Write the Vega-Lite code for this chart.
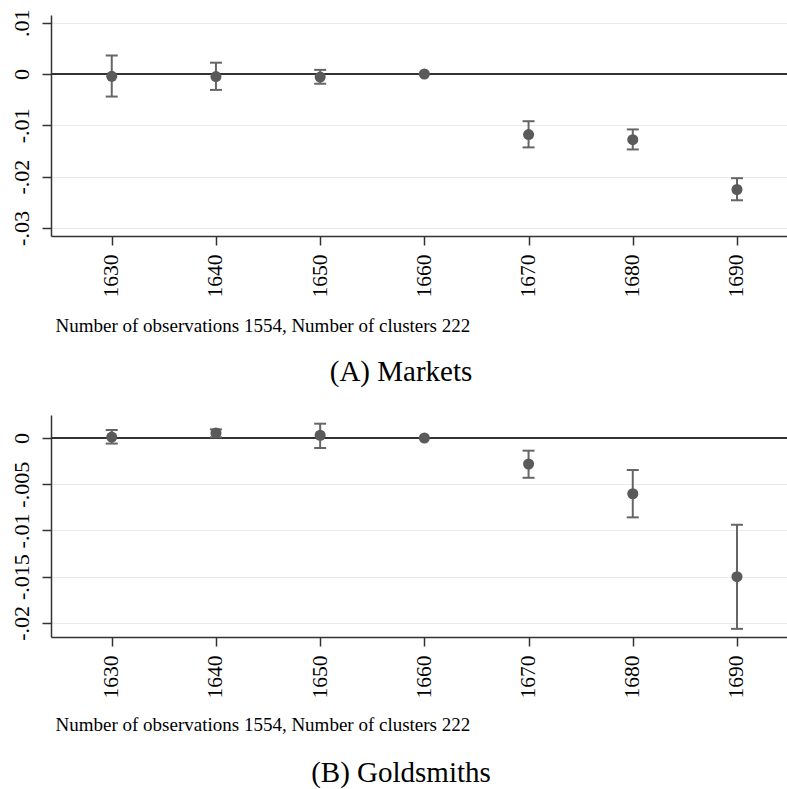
{
  "$schema": "https://vega.github.io/schema/vega-lite/v6.json",
  "autosize": {"type": "none"},
  "padding": {"left": 51, "top": 15, "right": 736, "bottom": 774},
  "bounds": "flush",
  "spacing": 179,
  "background": "white",
  "datasets": {
    "markets": [
      {"year": 1630, "est": -0.00045, "lo": -0.0044, "hi": 0.0036},
      {"year": 1640, "est": -0.0005, "lo": -0.0031, "hi": 0.0022},
      {"year": 1650, "est": -0.0006, "lo": -0.0019, "hi": 0.0008},
      {"year": 1660, "est": 0, "lo": null, "hi": null},
      {"year": 1670, "est": -0.0118, "lo": -0.0143, "hi": -0.0092},
      {"year": 1680, "est": -0.0128, "lo": -0.0147, "hi": -0.0108},
      {"year": 1690, "est": -0.0225, "lo": -0.0246, "hi": -0.0203}
    ],
    "goldsmiths": [
      {"year": 1630, "est": 0.0001, "lo": -0.0006, "hi": 0.00087},
      {"year": 1640, "est": 0.00054, "lo": 0.00008, "hi": 0.00094},
      {"year": 1650, "est": 0.0003, "lo": -0.00108, "hi": 0.00155},
      {"year": 1660, "est": 0, "lo": null, "hi": null},
      {"year": 1670, "est": -0.00281, "lo": -0.0043, "hi": -0.00137},
      {"year": 1680, "est": -0.00603, "lo": -0.00858, "hi": -0.00346},
      {"year": 1690, "est": -0.0150, "lo": -0.02064, "hi": -0.00938}
    ],
    "zero": [{"z": 0}]
  },
  "config": {
    "view": {"stroke": null},
    "font": "Liberation Serif",
    "axis": {
      "domainColor": "#333333", "domainWidth": 1.5,
      "tickColor": "#333333", "tickWidth": 1.5, "tickSize": 9,
      "labelFont": "Liberation Serif", "labelColor": "#000000",
      "titleFont": "Liberation Serif", "titleFontWeight": "normal", "titleColor": "#000000",
      "gridColor": "#eaeaea", "gridWidth": 1
    },
    "axisY": {"grid": true, "labelAngle": -90, "labelAlign": "center", "labelBaseline": "alphabetic", "labelFontSize": 22, "labelPadding": 14},
    "axisX": {"grid": false, "labelAngle": -90, "labelAlign": "right", "labelBaseline": "middle", "labelFontSize": 21.5, "labelPadding": 9}
  },
  "vconcat": [
    {
      "width": 736,
      "height": 221,
      "title": {"text": "(A) Markets", "orient": "bottom", "anchor": "middle", "frame": "group", "dx": -18, "offset": 46, "fontSize": 29, "font": "Liberation Serif", "fontWeight": "normal", "color": "#000000", "baseline": "alphabetic"},
      "data": {"name": "markets"},
      "layer": [
        {
          "data": {"name": "zero"},
          "mark": {"type": "rule", "color": "#333333", "strokeWidth": 2},
          "encoding": {"y": {"field": "z", "type": "quantitative"}}
        },
        {
          "mark": {"type": "rule", "color": "#666666", "strokeWidth": 2},
          "encoding": {
            "x": {"field": "year", "type": "quantitative"},
            "y": {"field": "lo", "type": "quantitative"},
            "y2": {"field": "hi"}
          }
        },
        {
          "mark": {"type": "tick", "orient": "horizontal", "size": 12, "thickness": 2, "color": "#666666", "opacity": 1},
          "encoding": {
            "x": {"field": "year", "type": "quantitative"},
            "y": {"field": "lo", "type": "quantitative"}
          }
        },
        {
          "mark": {"type": "tick", "orient": "horizontal", "size": 12, "thickness": 2, "color": "#666666", "opacity": 1},
          "encoding": {
            "x": {"field": "year", "type": "quantitative"},
            "y": {"field": "hi", "type": "quantitative"}
          }
        },
        {
          "mark": {"type": "point", "filled": true, "size": 122, "color": "#5a5a5a", "opacity": 1},
          "encoding": {
            "x": {"field": "year", "type": "quantitative",
              "scale": {"domain": [1624.17, 1694.8], "nice": false, "zero": false},
              "axis": {"values": [1630, 1640, 1650, 1660, 1670, 1680, 1690], "format": "d",
                "title": "Number of observations 1554, Number of clusters 222", "titleFontSize": 19,
                "titleX": 4, "titleY": 95, "titleAlign": "left", "titleBaseline": "alphabetic", "titleAngle": 0}},
            "y": {"field": "est", "type": "quantitative",
              "scale": {"domain": [-0.03156, 0.01149], "nice": false, "zero": false},
              "axis": {"values": [-0.03, -0.02, -0.01, 0, 0.01], "title": null,
                "labelExpr": "(datum.value < 0 ? '-' : '') + replace(format(abs(datum.value), '.3~f'), '0.', '.')"}}
          }
        }
      ]
    },
    {
      "width": 736,
      "height": 222,
      "title": {"text": "(B) Goldsmiths", "orient": "bottom", "anchor": "middle", "frame": "group", "dx": -18, "offset": 48, "fontSize": 29, "font": "Liberation Serif", "fontWeight": "normal", "color": "#000000", "baseline": "alphabetic"},
      "data": {"name": "goldsmiths"},
      "layer": [
        {
          "data": {"name": "zero"},
          "mark": {"type": "rule", "color": "#333333", "strokeWidth": 2},
          "encoding": {"y": {"field": "z", "type": "quantitative"}}
        },
        {
          "mark": {"type": "rule", "color": "#666666", "strokeWidth": 2},
          "encoding": {
            "x": {"field": "year", "type": "quantitative"},
            "y": {"field": "lo", "type": "quantitative"},
            "y2": {"field": "hi"}
          }
        },
        {
          "mark": {"type": "tick", "orient": "horizontal", "size": 12, "thickness": 2, "color": "#666666", "opacity": 1},
          "encoding": {
            "x": {"field": "year", "type": "quantitative"},
            "y": {"field": "lo", "type": "quantitative"}
          }
        },
        {
          "mark": {"type": "tick", "orient": "horizontal", "size": 12, "thickness": 2, "color": "#666666", "opacity": 1},
          "encoding": {
            "x": {"field": "year", "type": "quantitative"},
            "y": {"field": "hi", "type": "quantitative"}
          }
        },
        {
          "mark": {"type": "point", "filled": true, "size": 122, "color": "#5a5a5a", "opacity": 1},
          "encoding": {
            "x": {"field": "year", "type": "quantitative",
              "scale": {"domain": [1624.17, 1694.8], "nice": false, "zero": false},
              "axis": {"values": [1630, 1640, 1650, 1660, 1670, 1680, 1690], "format": "d",
                "title": "Number of observations 1554, Number of clusters 222", "titleFontSize": 19,
                "titleX": 4, "titleY": 93, "titleAlign": "left", "titleBaseline": "alphabetic", "titleAngle": 0}},
            "y": {"field": "est", "type": "quantitative",
              "scale": {"domain": [-0.02152, 0.00249], "nice": false, "zero": false},
              "axis": {"values": [-0.02, -0.015, -0.01, -0.005, 0], "title": null,
                "labelExpr": "(datum.value < 0 ? '-' : '') + replace(format(abs(datum.value), '.3~f'), '0.', '.')"}}
          }
        }
      ]
    }
  ]
}
